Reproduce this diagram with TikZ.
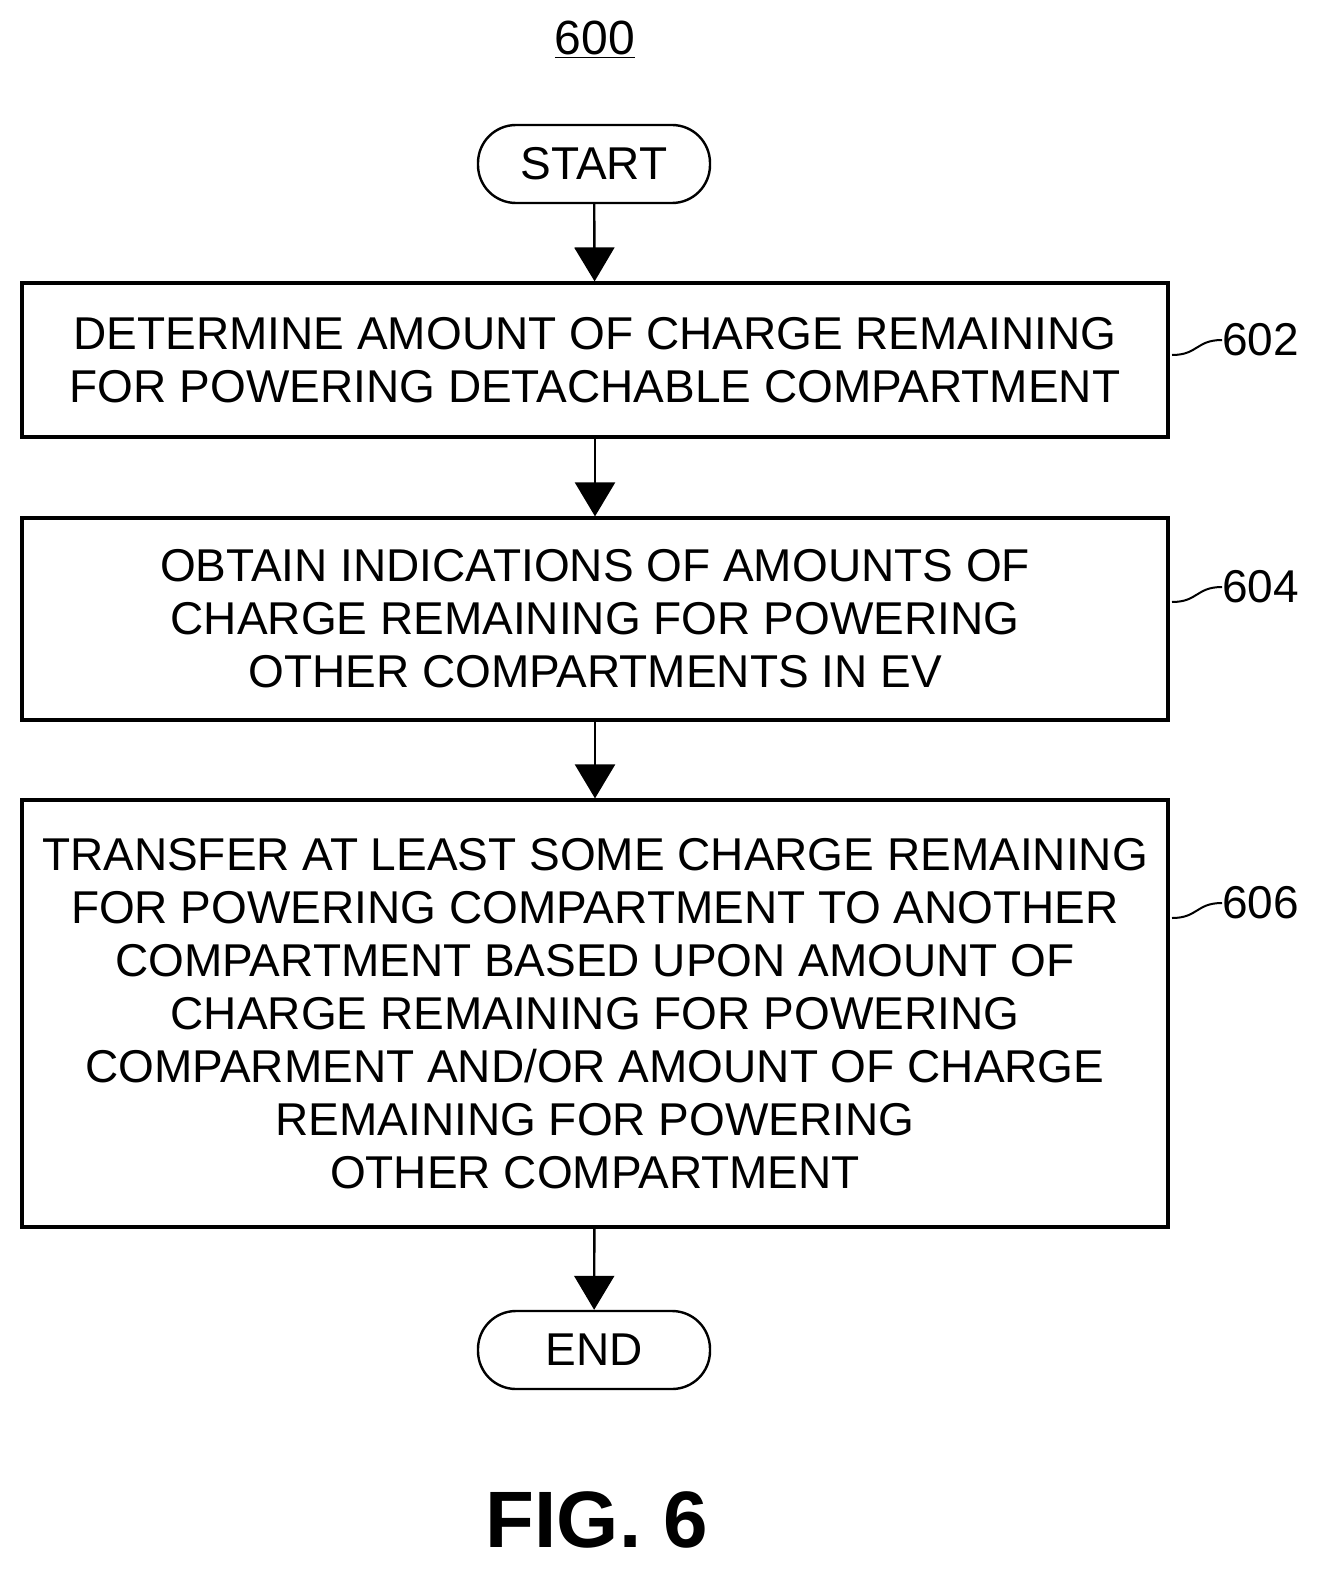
\documentclass[tikz,border=0pt]{standalone}
\usepackage{fontspec}
\setmainfont{Liberation Sans}
\usetikzlibrary{arrows.meta}
\begin{document}
\begin{tikzpicture}[x=0.5pt,y=-0.5pt,
  box/.style={draw,line width=1.6pt,minimum width=573pt,align=center,font=\fontsize{23}{26.5}\selectfont,inner sep=0pt},
  term/.style={draw,line width=1.2pt,rounded corners=19pt,minimum width=116pt,minimum height=39pt,font=\fontsize{23}{26}\selectfont},
  arr/.style={line width=1.2pt,-{Triangle[width=20pt,length=17pt]}},
  lab/.style={font=\fontsize{23}{26}\selectfont,anchor=west,inner sep=0pt},
  sq/.style={line width=1pt}]
\useasboundingbox (0,0) rectangle (1323,1578);
\node[font=\fontsize{24}{26}\selectfont] (t) at (595,40) {\underline{600}};
\node[term] (s) at (594,164) {START};
\node[box,minimum height=77pt] (b1) at (595,360) {DETERMINE AMOUNT OF CHARGE REMAINING\\FOR POWERING DETACHABLE COMPARTMENT};
\node[box,minimum height=101pt] (b2) at (595,619) {OBTAIN INDICATIONS OF AMOUNTS OF\\CHARGE REMAINING FOR POWERING\\OTHER COMPARTMENTS IN EV};
\node[box,minimum height=213.5pt] (b3) at (595,1013.5) {TRANSFER AT LEAST SOME CHARGE REMAINING\\FOR POWERING COMPARTMENT TO ANOTHER\\COMPARTMENT BASED UPON AMOUNT OF\\CHARGE REMAINING FOR POWERING\\COMPARMENT AND/OR AMOUNT OF CHARGE\\REMAINING FOR POWERING\\OTHER COMPARTMENT};
\node[term] (e) at (594,1350) {END};
\node[font=\bfseries\fontsize{40}{44}\selectfont] (f) at (597,1520) {FIG. 6};
\draw[arr] (s) -- (b1);
\draw[arr] (b1) -- (b2);
\draw[arr] (b2) -- (b3);
\draw[arr] (b3) -- (e);
\node[lab] (l1) at (1222,340) {602};
\node[lab] (l2) at (1222,587) {604};
\node[lab] (l3) at (1222,903) {606};
\coordinate (c1) at (1172,355); \coordinate (c2) at (1172,602); \coordinate (c3) at (1172,918);
\draw[sq] (c1) .. controls (1198,355) and (1196,340) .. (l1.west);
\draw[sq] (c2) .. controls (1198,602) and (1196,587) .. (l2.west);
\draw[sq] (c3) .. controls (1198,918) and (1196,903) .. (l3.west);
\end{tikzpicture}
\end{document}
